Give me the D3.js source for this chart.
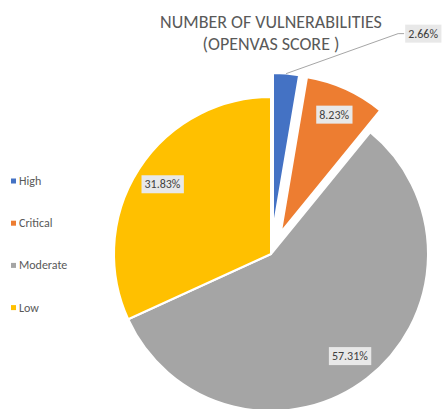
<!DOCTYPE html>
<html>
<head>
<meta charset="utf-8">
<script src="https://cdn.jsdelivr.net/npm/d3@7"></script>
<style>
  body { margin: 0; background: #fff; }
  svg { display: block; font-family: Carlito, Lato, "Liberation Sans", sans-serif; }
</style>
</head>
<body>
<svg id="chart" width="442" height="409"></svg>
<script>
// data
const categories = ['High', 'Critical', 'Moderate', 'Low'];
const values = [2.66, 8.23, 57.31, 31.83];
const colors = ['#4472C4', '#ED7D31', '#A5A5A5', '#FFC000'];
const exploded = [true, true, false, false];
const titleLines = ['NUMBER OF VULNERABILITIES', '(OPENVAS SCORE )'];

const svg = d3.select('#chart');
const cx = 271, cy = 254, radius = 157, explode = 24, labelRadius = 129;

// title
svg.append('g').selectAll('text')
    .data(titleLines)
    .join('text')
    .attr('x', cx)
    .attr('y', (d, i) => 28 + i * 22)
    .attr('text-anchor', 'middle')
    .attr('fill', '#595959')
    .attr('font-size', 18)
    .text(d => d);

const data = categories.map((c, i) => ({name: c, value: values[i], color: colors[i], explode: exploded[i]}));

const pie = d3.pie().sort(null).value(d => d.value);
const arc = d3.arc().innerRadius(0).outerRadius(radius);
const labelArc = d3.arc().innerRadius(labelRadius).outerRadius(labelRadius);
const arcs = pie(data);

function offset(d){
    if(!d.data.explode) return [0, 0];
    let a = (d.startAngle + d.endAngle) / 2;
    return [explode * Math.sin(a), -explode * Math.cos(a)];
}

const g = svg.append('g').attr('transform', `translate(${cx},${cy})`);

g.selectAll('path.slice')
    .data(arcs)
    .join('path')
    .attr('class', 'slice')
    .attr('transform', d => `translate(${offset(d)})`)
    .attr('d', arc)
    .attr('fill', d => d.data.color)
    .attr('stroke', '#fff')
    .attr('stroke-width', 2)
    .attr('stroke-linejoin', 'round');

function labelBox(sel, x, y, text){
    let t = sel.append('text')
        .attr('x', x)
        .attr('y', y)
        .attr('text-anchor', 'middle')
        .attr('dominant-baseline', 'central')
        .attr('fill', '#404040')
        .attr('font-size', 12)
        .text(text);
    let bb = t.node().getBBox();
    sel.insert('rect', 'text')
        .attr('x', bb.x - 3)
        .attr('y', y - 9)
        .attr('width', bb.width + 6)
        .attr('height', 18)
        .attr('fill', '#E8E8E8');
}

arcs.forEach((d, i) => {
    let [ox, oy] = offset(d);
    let lg = g.append('g');
    let text = d.data.value.toFixed(2) + '%';
    if(i === 0){
        // small slice: label outside with a leader line
        let a = (d.startAngle + d.endAngle) / 2;
        let px = ox + radius * Math.sin(a), py = oy - radius * Math.cos(a);
        let bx = px + 112, by = py - 40;
        lg.append('path')
            .attr('d', `M ${px} ${py} L ${bx} ${by} L ${bx + 6} ${by}`)
            .attr('fill', 'none')
            .attr('stroke', '#A6A6A6')
            .attr('stroke-width', 1);
        labelBox(lg, bx + 6 + 19, by, text);
    }else{
        let [lx, ly] = labelArc.centroid(d);
        labelBox(lg, lx + ox, ly + oy, text);
    }
});

// legend
const legend = svg.append('g').attr('transform', 'translate(11,181)');
const item = legend.selectAll('g')
    .data(data)
    .join('g')
    .attr('transform', (d, i) => `translate(0,${i * 42.2})`);
item.append('rect')
    .attr('x', 0).attr('y', -2.5)
    .attr('width', 5).attr('height', 5)
    .attr('fill', d => d.color);
item.append('text')
    .attr('x', 8)
    .attr('y', 0)
    .attr('dominant-baseline', 'central')
    .attr('fill', '#595959')
    .attr('font-size', 12)
    .text(d => d.name);
</script>
</body>
</html>
